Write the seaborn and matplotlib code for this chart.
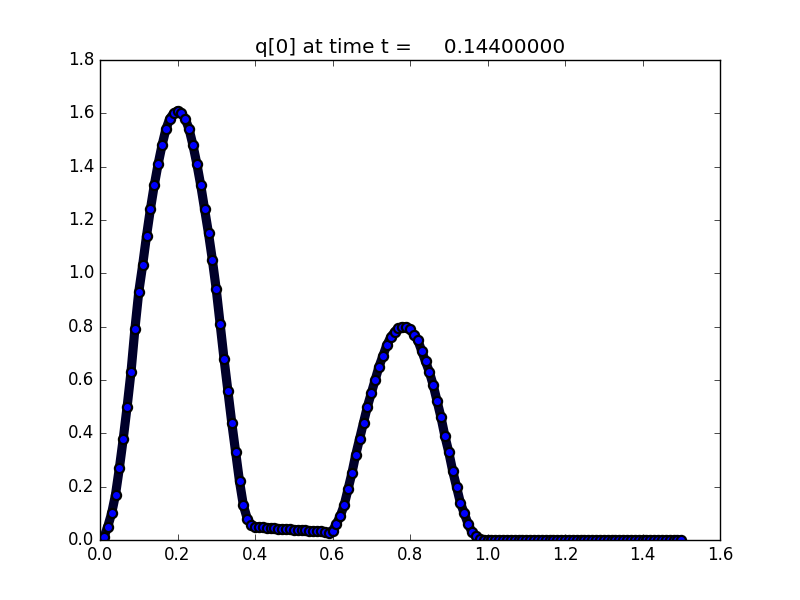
import numpy as np
import matplotlib
matplotlib.use("Agg")
import matplotlib.pyplot as plt
import seaborn as sns

## Data (q[0] at t = 0.144)

x_vals = [round(0.01 * i, 2) for i in range(151)]

q_hump1 = [0.00, 0.01, 0.05, 0.10, 0.17, 0.27, 0.38, 0.50, 0.63, 0.79,
           0.93, 1.03, 1.14, 1.24, 1.33, 1.41, 1.48, 1.54, 1.58, 1.60,
           1.61, 1.60, 1.58, 1.54, 1.48, 1.41, 1.33, 1.24, 1.15, 1.05,
           0.94, 0.81, 0.68, 0.56, 0.44, 0.33, 0.22, 0.13, 0.08, 0.058]
q_plateau = [0.050, 0.048, 0.047, 0.046, 0.045, 0.044, 0.043, 0.042, 0.041, 0.040,
             0.039, 0.038, 0.037, 0.036, 0.035, 0.034, 0.033, 0.032, 0.030, 0.028]
q_hump2 = [0.035, 0.06, 0.09, 0.13, 0.19, 0.25, 0.32, 0.38, 0.44, 0.50,
           0.55, 0.60, 0.65, 0.69, 0.73, 0.76, 0.78, 0.795, 0.80, 0.80,
           0.79, 0.77, 0.75, 0.71, 0.67, 0.63, 0.58, 0.52, 0.46, 0.39,
           0.33, 0.26, 0.20, 0.14, 0.10, 0.06, 0.03, 0.015, 0.005, 0.0]
q_tail = [0.0] * 51

q_vals = q_hump1 + q_plateau + q_hump2 + q_tail

title_text = "q[0] at time t =     0.14400000"

## Plot

plt.style.use("classic")
fig, ax = plt.subplots(figsize=(8, 6), dpi=100)
fig.patch.set_facecolor("white")

# thick dark band underneath, blue circles with black edges on top
sns.lineplot(x=np.array(x_vals), y=np.array(q_vals), ax=ax,
             color="#00002a", linewidth=6.6, solid_joinstyle="round",
             solid_capstyle="round", marker="o", markersize=6.6,
             markerfacecolor="b", markeredgecolor="k", markeredgewidth=1.6,
             sort=False)

ax.set_xlim(0, 1.6)
ax.set_ylim(0, 1.8)
ax.set_xlabel("")
ax.set_ylabel("")
ax.set_title(title_text)

fig.savefig("out.png", dpi=100, facecolor="white")
